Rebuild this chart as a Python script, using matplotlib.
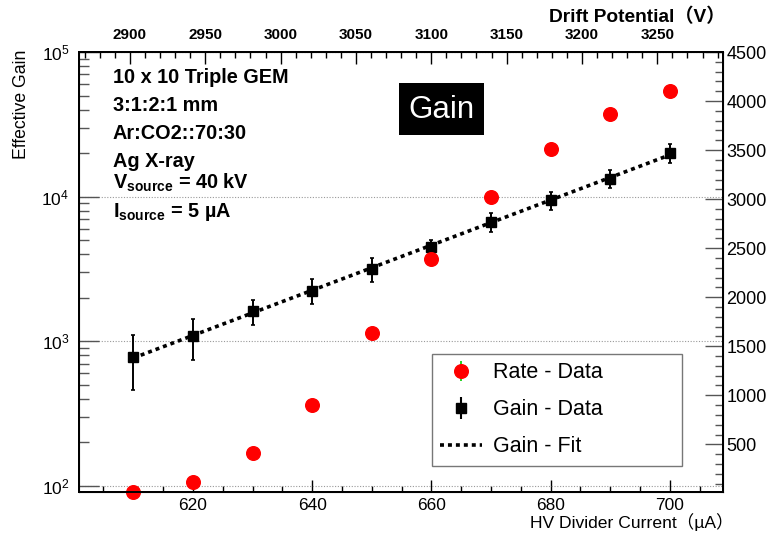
import numpy as np
import matplotlib
matplotlib.use("Agg")
import matplotlib.pyplot as plt
from matplotlib.lines import Line2D
from matplotlib.patches import Rectangle
from matplotlib.legend_handler import HandlerTuple
from matplotlib.ticker import MultipleLocator, LogLocator, FuncFormatter, NullFormatter

plt.rcParams['font.family'] = ['Liberation Sans', 'Noto Sans CJK SC', 'DejaVu Sans']
plt.rcParams['mathtext.fontset'] = 'custom'
plt.rcParams['mathtext.rm'] = 'Liberation Sans'
plt.rcParams['mathtext.bf'] = 'Liberation Sans:bold'
plt.rcParams['mathtext.it'] = 'Liberation Sans:italic'

# data
hv_current = [610, 620, 630, 640, 650, 660, 670, 680, 690, 700]          # uA
gain = [776, 1077, 1609, 2233, 3180, 4508, 6700, 9400, 13330, 19980]
gain_err = [320, 340, 320, 440, 600, 530, 1000, 1360, 1950, 3000]
rate = [17, 113, 415, 901, 1633, 2385, 3023, 3511, 3868, 4099]           # right axis

info_lines = ["10 x 10 Triple GEM", "3:1:2:1 mm", "Ar:CO2::70:30", "Ag X-ray",
              r"V$_{\mathbf{source}}$ = 40 kV", r"I$_{\mathbf{source}}$ = 5 µA"]

W, H = 767, 534
fig = plt.figure(figsize=(W / 100, H / 100), dpi=100)
L, R, T, B = 79, 723, 52, 492
ax = fig.add_axes([L / W, 1 - B / H, (R - L) / W, (B - T) / H])

# gain + fit on the log axis
ax.errorbar(hv_current, gain, yerr=gain_err, fmt='s', color='k', ms=7.7,
            elinewidth=1.4, capsize=1.5, capthick=1.2, zorder=4)
coef = np.polyfit(hv_current, np.log10(gain), 1)
xf = np.linspace(hv_current[0], hv_current[-1], 50)
ax.plot(xf, 10 ** np.polyval(coef, xf), color='k', lw=2.6, ls=(0, (1.1, 1.1)), zorder=5)

ax.set_yscale('log')
ax.set_xlim(600.9, 708.9)
ax.set_ylim(90.5, 1e5)
ax.xaxis.set_major_locator(MultipleLocator(20))
ax.xaxis.set_minor_locator(MultipleLocator(5))
ax.yaxis.set_major_locator(LogLocator(base=10))
ax.yaxis.set_minor_locator(LogLocator(base=10, subs=np.arange(2, 10)))
ax.yaxis.set_minor_formatter(NullFormatter())
ax.tick_params(axis='x', which='major', direction='in', length=8.6, width=1, labelsize=12.5, pad=4)
ax.tick_params(axis='x', which='minor', direction='in', length=4.3, width=1)
ax.tick_params(axis='y', which='major', direction='in', length=14.4, width=1, color='#555555',
               labelsize=12.5, pad=7)
ax.tick_params(axis='y', which='minor', direction='in', length=7.2, width=1, color='#555555')
ax.yaxis.grid(True, which='major', ls=(0, (1, 1.5)), color='#999999', lw=0.8)
for s in ax.spines.values():
    s.set_linewidth(1.4)

# rate on the right linear axis
axr = ax.twinx()
axr.plot(hv_current, rate, 'o', color='red', ms=9.8, clip_on=False, zorder=3)
axr.set_ylim(14, 4500)
axr.yaxis.set_major_locator(MultipleLocator(500))
axr.yaxis.set_minor_locator(MultipleLocator(100))
axr.yaxis.set_major_formatter(FuncFormatter(lambda v, p: f"{v:.0f}" if v > 0 else ""))
axr.tick_params(axis='y', which='major', direction='in', length=13, width=1, color='#555555',
                labelsize=13, pad=2.5)
axr.tick_params(axis='y', which='minor', direction='in', length=5.8, width=1, color='#555555')

# drift potential on top
axt = ax.twiny()
axt.set_xlim(2866.2, 3293.6)
axt.xaxis.set_major_locator(MultipleLocator(50))
axt.xaxis.set_minor_locator(MultipleLocator(10))
axt.tick_params(axis='x', which='major', direction='in', length=8.6, width=1, labelsize=11, pad=7)
axt.tick_params(axis='x', which='minor', direction='in', length=4.3, width=1)
for lab in axt.get_xticklabels():
    lab.set_fontweight('bold')
for s in axt.spines.values():
    s.set_linewidth(1.4)

# labels
fig.text(22 / W, 1 - 50 / H, "Effective Gain", rotation=90, ha='center', va='top', fontsize=12.7)
fig.text(733 / W, 1 - 522 / H, "HV Divider Current（µA）", ha='right', va='center', fontsize=12.6)
fig.text(725 / W, 1 - 17 / H, "Drift Potential（V）", ha='right', va='center', fontsize=13.8,
         fontweight='bold')

baselines = [83.3, 111, 139, 166.7, 188.3, 216.7]
for txt, yb in zip(info_lines, baselines):
    fig.text(113 / W, 1 - yb / H, txt, ha='left', va='baseline', fontsize=14.3, fontweight='bold')

fig.patches.append(Rectangle((399 / W, 1 - 135 / H), 85 / W, 52 / H, transform=fig.transFigure,
                             facecolor='black', edgecolor='none', zorder=6))
fig.text(441.5 / W, 1 - 110 / H, "Gain", ha='center', va='center', fontsize=22.5, color='white',
         zorder=7)

# legend
h_rate = (Line2D([], [], color='#00cc00', marker='|', ms=15, mew=1.2, ls='none'),
          Line2D([], [], color='red', marker='o', ms=9.8, ls='none'))
h_gain = (Line2D([], [], color='k', marker='|', ms=16, mew=1.5, ls='none'),
          Line2D([], [], color='k', marker='s', ms=7.7, ls='none'))
h_fit = Line2D([], [], color='k', lw=2.6, ls=(0, (1.1, 1.1)))
leg = fig.legend([h_rate, h_gain, h_fit], ["Rate - Data", "Gain - Data", "Gain - Fit"],
                 handler_map={tuple: HandlerTuple(ndivide=1)},
                 loc='upper left', bbox_to_anchor=(432 / W, 1 - 465 / H, 250 / W, 111 / H),
                 mode='expand', fontsize=15.5, frameon=True, fancybox=False, framealpha=1,
                 edgecolor='#777777', handlelength=1.95, handletextpad=0.5, labelspacing=0.75,
                 borderpad=0.38, borderaxespad=0)
leg.get_frame().set_linewidth(1.0)

fig.savefig("out.png", dpi=100)
